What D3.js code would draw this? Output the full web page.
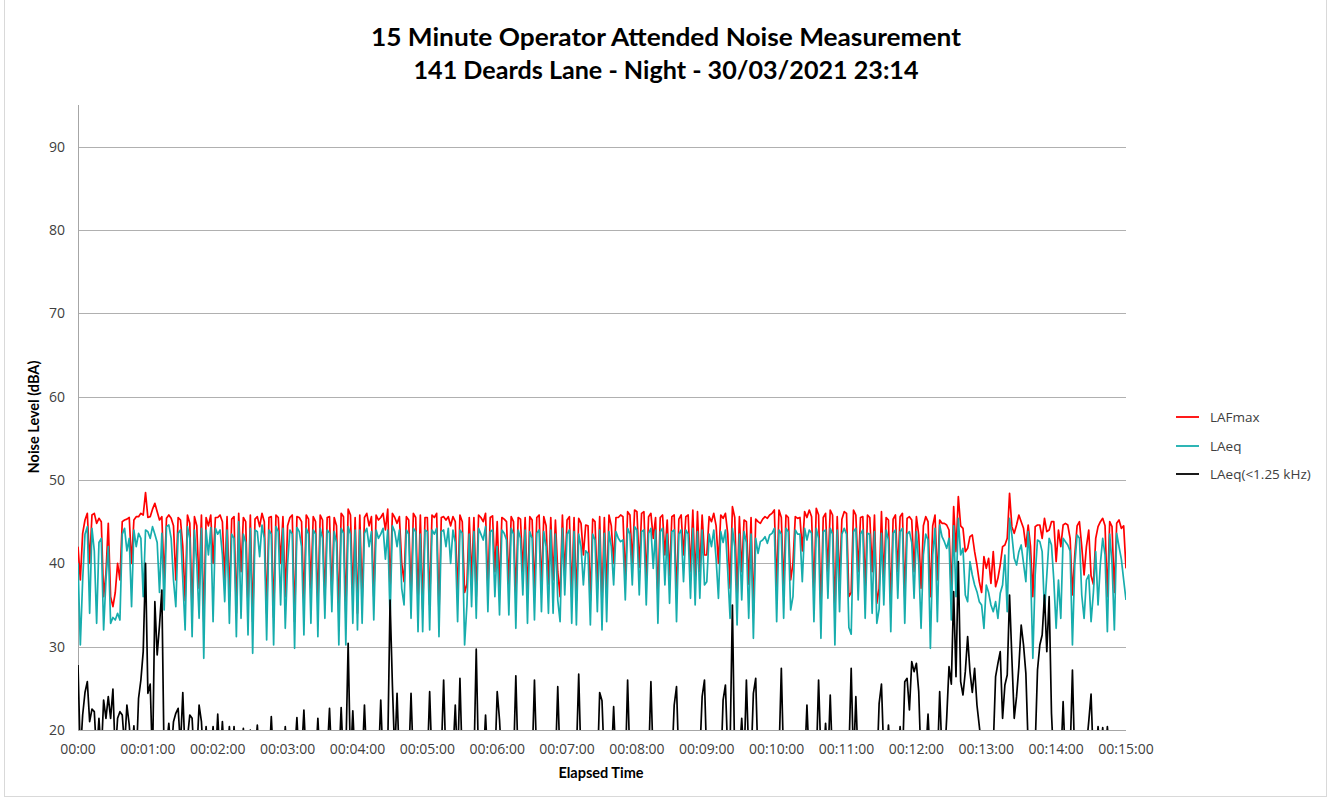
<!DOCTYPE html>
<html><head><meta charset="utf-8">
<script src="https://cdn.jsdelivr.net/npm/d3@7"></script>
<style>body{margin:0;background:#fff;} svg{display:block;}</style>
</head><body>
<svg id="chart" width="1332" height="799"></svg>
<script>
const titleLines = ["15 Minute Operator Attended Noise Measurement", "141 Deards Lane - Night - 30/03/2021 23:14"];
const xAxisTitle = "Elapsed Time";
const yAxisTitle = "Noise Level (dBA)";
const sampleStepSeconds = 2;

const lafmax = [
42,38,43.6,45.2,46,40,45.8,46,44.8,45.4,
45,36,38.8,44.8,36,34.8,36.5,40,38,45,
45.2,45.3,45.5,40,45.2,45.6,45.6,46,45.8,48.5,
45.5,45.6,46.5,47.2,46.2,45.2,45.6,38,45.4,45.8,
45.4,44.5,38,45.5,45.2,42,35.5,45.8,44.8,34,
45.6,44.5,37,45.8,33,45.5,44.5,45.8,40,45.5,
45.5,45.8,45,38,45.6,36,45.3,45.6,34,46,
39,45.5,45,35,45.8,33,45.3,45.6,44.4,46,
45,34,45.5,45.6,33.5,45.8,45.5,40,45.6,36,
44.5,45.5,45.8,33,45.6,45.5,45,35,45.8,45.3,
37,45.6,45,35,45.8,45.2,35.5,45.5,45.6,36,
45.5,44.5,34,46,45.6,34,46.5,45.8,36,45.5,
34,45.8,35.5,45.5,46,44.5,45.6,36,45.8,45.2,
45.5,46,44,46.5,37,46,45.5,44.8,45.6,40,
37.8,45.6,45.2,36,46,45.5,35.5,45.8,34.5,45.5,
45.5,35,45.8,45.5,46,34,45.5,45.6,45.2,45.6,
44.5,45.6,45,36,45.8,45,36.5,37.5,45.5,38,
45.5,36,45.8,45.5,45,46,37,45.5,45.7,39,
45,37,45.5,45.3,45,37.5,45.6,45,36,45.5,
45.3,39,45.5,36,45.6,45.2,36.5,45.5,45.8,37,
45.6,44.5,37.5,45.5,38,45.2,39,36,45.8,38.5,
45.2,45.6,36,45.5,35.5,45.4,44.8,41,44.6,44.5,
35.5,45.3,45,37,45.6,35,45.5,36.5,45.8,44.5,
40,45.5,45.5,45.8,45.6,38,46.2,45.8,40,46.4,
46.2,39.5,46,46.2,38,45.6,46,43,45.5,36,
45.5,45.8,41,45.2,38.5,45.6,45.8,36,45.3,45.8,
41,45.6,45.8,39,46.4,38,46.2,39,45.8,41,
41,45.6,45,46,44.5,40,45.8,45.4,46,43.5,
37,46.8,45.5,36,45.6,39,45.2,45,37.5,45.5,
34,45.3,45,44.8,45.3,45.6,45.4,45.8,46,46.4,
37,46.4,45.5,37,45.8,45.5,38,40,45.6,45.4,
45.5,41.5,46.2,45.5,46.4,45.6,36.5,46.6,45.8,34.5,
45.5,46,39,46.4,45.8,34,45.6,37.5,45.3,46.2,
46,36,36.5,46.4,45.8,39,45.5,45.6,37,45.8,
45.5,39,45.8,35.2,37,46.2,38,45.5,45.2,35,
45.3,45.8,39,45.6,46,36,45.4,45.6,45.2,39,
45.6,43.4,37,44.5,45.6,45,36,44.5,45.8,38,
45.2,44.8,44.8,44.6,44,36.5,46.8,41.4,48,44.5,
44.2,41.4,41.8,43.2,43.4,41.4,39.8,37.8,36.5,40.8,
39.4,40.6,37.6,41.4,37.2,38.2,39.8,42,42.2,43,
48.4,44.4,43.6,44.6,45.8,45,44.2,42,44.6,42,
36,44.4,44.6,44.6,43,45.4,43.8,44,45,45,
40.2,44,42,44.6,44.8,44.6,43,36.2,41,44.5,
45,42,38.6,42,44,38.5,37.5,43,44.4,45,
45.4,44.5,36,45,44.4,36.5,44.8,45.2,44.2,44.5,
39.4];

const laeq = [
40,30.2,38,43.5,44.4,34,44.2,41.5,32.8,42.5,
43,32,38,42,32.8,33.5,33.2,34,33.2,43.5,
44.2,41.5,43,34.8,44,42,43.6,43,36,44,
43.8,43,44.4,43.5,42.5,36.5,43.6,34.4,44.4,44.6,
43,38,34.8,43.6,44,38,32,44.4,43,31.2,
44,40,33.4,44.2,28.6,44,41,44.3,33,44.2,
43.5,44,41,35.4,44,32.8,43.5,43,31.2,45,
33.4,43.5,42.5,31.4,44.2,29.2,44,43.8,40.8,44.6,
43,30.8,44,43.5,30.2,44.4,43.8,35,44.2,32.2,
40,44,43.5,29.8,44.3,43.8,42,31.4,44.2,43.5,
32.8,44,43.5,31.2,44.2,43,33.4,44,43.6,34.2,
43.8,42.5,30.2,44.2,43.6,30.2,44.4,43.5,32.8,44,
32,44,32.8,43.6,44.2,42,43.8,33.2,44,43,
43.5,44.2,40.5,44,33.4,44.5,43.8,42,44,37,
35,44,43.5,33.4,44.2,43.8,31.8,43.5,31.8,44,
43.8,32,44,43.5,44.2,31.2,43.8,44,42,44.2,
40,44,42.5,33,44,43.6,30.2,35,43.5,34.8,
43.8,33.4,44.2,43.5,42.8,44.4,34.2,43.8,44,36,
42,33.8,44,43.6,42.8,33.8,44.2,43.5,32.2,44,
43,36.2,44,32.8,43.8,43,33.2,43.6,44,34.2,
43.8,42,34,44,34,43.5,35.6,33,44.2,36.2,
43.5,44,32.8,43.8,32.6,43.5,42,37.4,41.5,41.2,
32.6,43.5,42.8,34.2,44,32,43.6,33,43.8,42,
37.4,43.8,43,42.6,42.8,35.6,44.2,43.5,37.4,44.4,
44,36.2,43.8,44,35,43.6,44.2,39.4,44,32.8,
43.8,44.2,37.4,43.5,35.2,43.8,44,33,43.5,44,
37.8,44,43.5,35.8,44.2,35,43.8,35.8,44,37.4,
37.8,43.5,42,44,40.5,35.8,43.8,42.5,44,39,
33.4,44.2,42,32.6,43.5,35.6,43.8,42.5,33.4,43.5,
31,43,41.2,42.6,42.8,43.2,42.4,43.4,43.6,44.2,
33,44,43.5,33.4,44.2,43.8,34.4,36,44,43.5,
43.5,37.8,44.2,42.8,44,43.6,33,44.2,43,31,
43.8,44,35.8,44.2,43.5,30.2,44,34.2,43.5,44.2,
43.5,32.3,31.5,43.8,44.2,35.6,43.5,44,33.4,43.6,
43.5,34,43.8,32.8,34.5,43.6,35,44,42.8,31.8,
43.6,44,35.8,43.8,44.2,32.8,43.5,43.8,42.5,35.8,
43.8,40,32.2,41,43.5,42.8,29.8,41,44.2,33,
44.6,43.2,42.6,41.8,43,33.2,44.5,36,45.4,41,
41.8,36.2,35.4,40.2,38.6,37.4,36.6,35.4,35,32.2,
37.4,36.5,35,34.2,35.4,33.4,36.4,37.4,41,34.2,
45.4,43.4,40.6,39.8,41.4,42.2,40,37.8,43.8,39.4,
28.6,38.6,42.8,42.6,41.4,34.2,38.6,43,42.2,38,
32.2,38,33.4,43,42.6,42.2,41.5,30.2,39.8,43.4,
43,36.2,33.4,38,38.6,33,36.5,41.4,35,40,
43,41,31.8,43.5,40,32,43.6,42,40.5,38,
35.6];

const laeqLowFreq = [
27.8,17,21.8,24.5,25.8,21,22.5,22.2,17,21.4,
17,23.6,21.4,24,21.4,24.9,17,21.4,22.2,21.8,
18,23,20.6,17,20.5,16,23.8,26,29.4,40,
24.4,25.5,16,35.4,29,32.6,36.8,16,18,20.8,
17,21,22,22.6,18,24.5,17,19,21.8,21.4,
16,17,23,21,16,20.4,16,17,20.4,16,
21.9,16,21,16,17,20.4,16,20.4,16,17,
16,20.2,16,17,20,16,17,20.6,16,17,
16,17,16,21.6,16,17,16,17,16,20.4,
16,17,16,17,21.5,16,17,22.4,16,17,
16,17,16,21.4,16,17,16,17,22.6,16,
16,17,16,22.7,16,17,30.4,16,22.3,16,
16,17,16,23,16,15,17,16,18,16,
23.6,16,17,18,35.6,25.4,17,24.4,16,17,
16,17,16,24.4,16,15,17,16,15,17,
16,24.6,16,17,16,15,17,26,16,17,
16,17,23,16,26.2,16,15,17,16,15,
16,29.7,16,17,16,21.8,16,17,15,16,
24.6,21.2,16,17,16,15,17,16,26.5,16,
16,17,16,15,17,16,26,16,17,16,
16,17,16,15,17,16,25.2,16,17,16,
16,17,16,15,17,26.7,16,15,17,16,
16,17,16,15,24.5,23.5,16,15,17,16,
22.8,16,15,17,16,15,26,16,17,16,
16,17,16,15,17,16,25.8,16,15,17,
16,17,16,15,17,16,23,25.2,16,17,
16,17,16,15,17,16,15,17,24,26,
16,17,16,15,17,16,15,23.6,25.4,17,
18,35,16,15,17,21.4,16,26,17,16,
24.4,26.2,16,15,17,16,15,17,16,15,
16,17,27.4,16,15,17,16,15,17,16,
16,17,16,23,16,15,17,16,26,17,
16,20.8,16,24.2,16,15,17,16,15,17,
16,17,27.4,16,24,16,15,17,16,15,
16,17,16,15,23.2,25.5,17,16,20.6,16,
16,17,16,20.4,16,25.8,26.2,22.4,28.2,27,
28,24.6,16,15,17,21.9,16,15,17,16,
24.6,17,16,21.4,27.6,25.5,36.6,26.4,40.2,25.8,
24.2,27,31.2,27,24.5,27.4,23,20.5,18,16,
16,17,16,18,26.4,28,29.4,21.4,25.4,26.6,
36.2,28.6,21.4,24,27.6,32.6,30.2,26.8,18,16,
16,18,27.2,30.2,31.4,36.2,29.4,36,22,16,
16,17,16,23.4,16,15,17,27.2,16,15,
16,17,16,18,21,24.3,16,17,20.4,17,
20.3,16,20.4,17,16,15,16,15,16,15,
15];

const xTickSeconds = [0,60,120,180,240,300,360,420,480,540,600,660,720,780,840,900];
const xTickLabels = ["00:00","00:01:00","00:02:00","00:03:00","00:04:00","00:05:00","00:06:00","00:07:00","00:08:00","00:09:00","00:10:00","00:11:00","00:12:00","00:13:00","00:14:00","00:15:00"];
const yTicks = [20,30,40,50,60,70,80,90];
const seriesNames = ["LAFmax","LAeq","LAeq(<1.25 kHz)"];
const seriesColors = ["#ff0000","#17adad","#000000"];

const seriesData = [lafmax, laeq, laeqLowFreq];

const svg = d3.select("#chart");
const plot = {left:78, right:1126, top:105, bottom:730};
const x = d3.scaleLinear().domain([0,900]).range([plot.left, plot.right]);
const y = d3.scaleLinear().domain([20,95]).range([plot.bottom, plot.top]);

const tickFont = "'Open Sans', 'Liberation Sans', sans-serif";
const boldFont = "Lato, 'Open Sans', sans-serif";

// outer chart border
svg.append("rect").attr("x",4.5).attr("y",-1).attr("width",1322).attr("height",797.5)
  .attr("fill","none").attr("stroke","#d9d9d9").attr("stroke-width",1);

// title
const titleLens = [590, 505];
titleLines.forEach((t,i)=>{
  svg.append("text").attr("x",666).attr("y",46 + i*33)
    .attr("text-anchor","middle").attr("font-family",boldFont).attr("font-weight","bold")
    .attr("font-size",24).attr("fill","#000")
    .attr("textLength",titleLens[i]).attr("lengthAdjust","spacingAndGlyphs")
    .text(t);
});

// gridlines
svg.append("g").selectAll("line").data(yTicks.filter(v=>v>20)).join("line")
  .attr("x1",plot.left).attr("x2",plot.right)
  .attr("y1",d=>Math.round(y(d))+0.5).attr("y2",d=>Math.round(y(d))+0.5)
  .attr("stroke","#b0b0b0").attr("stroke-width",1);

// axes lines
svg.append("line").attr("x1",plot.left+0.5).attr("x2",plot.left+0.5)
  .attr("y1",plot.top).attr("y2",Math.round(y(20))+0.5).attr("stroke","#a6a6a6");
svg.append("line").attr("x1",plot.left).attr("x2",plot.right)
  .attr("y1",Math.round(y(20))+0.5).attr("y2",Math.round(y(20))+0.5).attr("stroke","#a6a6a6");

// y tick labels
svg.append("g").selectAll("text").data(yTicks).join("text")
  .attr("x",65).attr("y",d=>y(d)).attr("dy","0.35em").attr("text-anchor","end")
  .attr("font-family",tickFont).attr("font-size",14).attr("fill","#404040")
  .text(d=>d);

// x tick labels
svg.append("g").selectAll("text").data(xTickSeconds).join("text")
  .attr("x",d=>x(d)).attr("y",754).attr("text-anchor","middle")
  .attr("font-family",tickFont).attr("font-size",14).attr("fill","#404040")
  .text((d,i)=>xTickLabels[i]);

// axis titles
svg.append("text").attr("transform","translate(39,417) rotate(-90)")
  .attr("text-anchor","middle").attr("font-family",boldFont).attr("font-weight","bold")
  .attr("font-size",14.5).attr("fill","#000").text(yAxisTitle);
svg.append("text").attr("x",601).attr("y",778)
  .attr("text-anchor","middle").attr("font-family",boldFont).attr("font-weight","bold")
  .attr("font-size",14.5).attr("fill","#000").text(xAxisTitle);

// clip
svg.append("defs").append("clipPath").attr("id","plotclip").append("rect")
  .attr("x",plot.left).attr("y",plot.top).attr("width",plot.right-plot.left).attr("height",y(20)-plot.top);

const line = d3.line().x((d,i)=>x(i*sampleStepSeconds)).y(d=>y(d));
const lines = svg.append("g").attr("clip-path","url(#plotclip)");
seriesData.forEach((data,k)=>{
  lines.append("path").datum(data).attr("d",line)
    .attr("fill","none").attr("stroke",seriesColors[k]).attr("stroke-width",1.7)
    .attr("stroke-linejoin","round");
});

// legend
const legendY = [417, 446, 474];
const lg = svg.append("g");
seriesNames.forEach((n,k)=>{
  lg.append("line").attr("x1",1176).attr("x2",1199).attr("y1",legendY[k]).attr("y2",legendY[k])
    .attr("stroke",seriesColors[k]).attr("stroke-width",1.8);
  lg.append("text").attr("x",1210).attr("y",legendY[k]).attr("dy","0.35em")
    .attr("font-family",tickFont).attr("font-size",13.5).attr("fill","#404040").text(n);
});
</script>
</body></html>
